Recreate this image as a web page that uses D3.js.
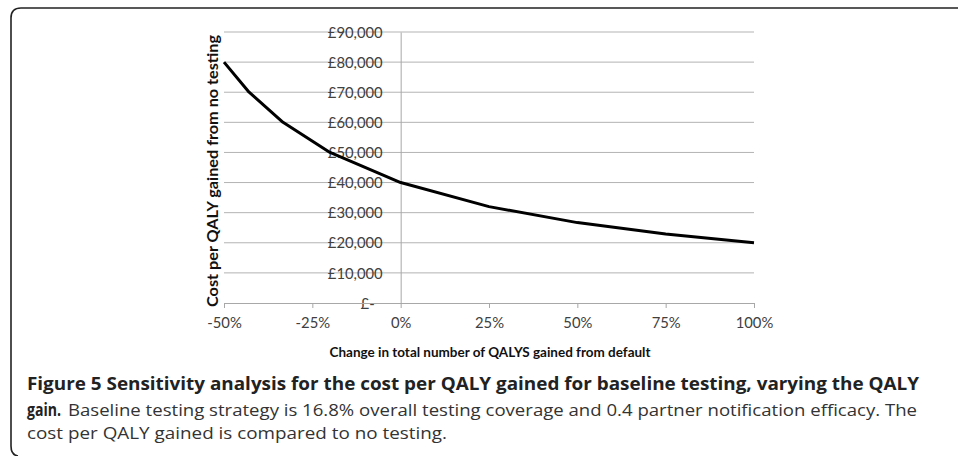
<!DOCTYPE html>
<meta charset="utf-8">
<style>
body { margin: 0; background: #fff; }
svg { display: block; }
.grid line { stroke: #b3b3b3; stroke-width: 1px; }
.tick text { font-family: Lato, "Open Sans", sans-serif; }
</style>
<body>
<script src="https://d3js.org/d3.v7.min.js"></script>
<script>

// data
var changePct = [-0.5, -0.429, -0.333, -0.2, 0, 0.25, 0.5, 0.75, 1.0];
var costPerQaly = [80000, 70000, 60000, 50000, 40000, 32000, 26700, 22900, 20000];
var xTicks = [-0.5, -0.25, 0, 0.25, 0.5, 0.75, 1.0];
var yTicks = [0, 10000, 20000, 30000, 40000, 50000, 60000, 70000, 80000, 90000];

var width = 958, height = 456;

var svg = d3.select("body").append("svg")
    .attr("width", width)
    .attr("height", height);

// rounded frame round the figure
svg.append("path")
    .attr("d", "M958,8 L21,8 Q11,8 11,18 L11,446 Q11,455 18,456")
    .attr("fill", "none")
    .attr("stroke", "#222")
    .attr("stroke-width", 1.6);

var x = d3.scaleLinear().domain([-0.5, 1]).range([224, 754]);
var y = d3.scaleLinear().domain([0, 90000]).range([303, 32]);

// horizontal gridlines
svg.append("g")
    .attr("class", "grid")
  .selectAll("line")
  .data(yTicks.filter(function(d) { return d > 0; }))
  .enter().append("line")
    .attr("x1", x(-0.5))
    .attr("x2", x(1))
    .attr("y1", function(d) { return y(d); })
    .attr("y2", function(d) { return y(d); });

// y axis sits at 0%
var yAxis = svg.append("g")
    .attr("transform", "translate(" + x(0) + ",0)")
    .call(d3.axisLeft(y).tickValues(yTicks).tickSize(0).tickPadding(18)
      .tickFormat(function(d) { return d === 0 ? "£-" : "£" + d3.format(",")(d); }));
yAxis.select(".domain").attr("stroke", "#a8a8a8");
yAxis.selectAll("text")
    .attr("font-size", "14.8px")
    .attr("fill", "#404040")
    .attr("dy", "0.35em");
yAxis.selectAll("text").filter(function(d) { return d === 0; })
    .attr("dx", "-8px");

// x axis
var xAxis = svg.append("g")
    .attr("transform", "translate(0," + y(0) + ")")
    .call(d3.axisBottom(x).tickValues(xTicks).tickSize(5).tickSizeOuter(0).tickPadding(9)
      .tickFormat(function(d) { return Math.round(d * 100) + "%"; }));
xAxis.select(".domain").attr("stroke", "#a8a8a8");
xAxis.selectAll(".tick line").attr("stroke", "#a8a8a8");
xAxis.selectAll("text")
    .attr("font-size", "14.8px")
    .attr("fill", "#404040");

// the curve
var data = changePct.map(function(d, i) { return {p: d, c: costPerQaly[i]}; });
svg.append("path")
    .datum(data)
    .attr("fill", "none")
    .attr("stroke", "#000")
    .attr("stroke-width", 3)
    .attr("stroke-linejoin", "round")
    .attr("d", d3.line()
      .x(function(d) { return x(d.p); })
      .y(function(d) { return y(d.c); }));

// axis titles
svg.append("text")
    .attr("transform", "translate(218,171) rotate(-90)")
    .attr("text-anchor", "middle")
    .attr("font-family", "Lato, sans-serif")
    .attr("font-weight", "bold")
    .attr("font-size", "14.5px")
    .attr("fill", "#111")
    .attr("textLength", 272)
    .attr("lengthAdjust", "spacingAndGlyphs")
    .text("Cost per QALY gained from no testing");

svg.append("text")
    .attr("x", 490)
    .attr("y", 357)
    .attr("text-anchor", "middle")
    .attr("font-family", "Lato, sans-serif")
    .attr("font-weight", "bold")
    .attr("font-size", "14px")
    .attr("fill", "#111")
    .attr("textLength", 321)
    .attr("lengthAdjust", "spacingAndGlyphs")
    .text("Change in total number of QALYS gained from default");

// caption
var cap = svg.append("g")
    .attr("font-family", "'Open Sans', sans-serif")
    .attr("fill", "#222");

cap.append("text")
    .attr("x", 27).attr("y", 390)
    .attr("font-size", "18px")
    .attr("font-weight", "bold")
    .attr("textLength", 892)
    .attr("lengthAdjust", "spacingAndGlyphs")
    .text("Figure 5 Sensitivity analysis for the cost per QALY gained for baseline testing, varying the QALY");

cap.append("text")
    .attr("x", 27).attr("y", 416)
    .attr("font-size", "18px")
    .attr("font-weight", "bold")
    .attr("textLength", 34)
    .attr("lengthAdjust", "spacingAndGlyphs")
    .text("gain.");

cap.append("text")
    .attr("x", 68).attr("y", 416)
    .attr("font-size", "17px")
    .attr("fill", "#333")
    .attr("textLength", 849)
    .attr("lengthAdjust", "spacingAndGlyphs")
    .text("Baseline testing strategy is 16.8% overall testing coverage and 0.4 partner notification efficacy. The");

cap.append("text")
    .attr("x", 27).attr("y", 439)
    .attr("font-size", "17px")
    .attr("fill", "#333")
    .attr("textLength", 420)
    .attr("lengthAdjust", "spacingAndGlyphs")
    .text("cost per QALY gained is compared to no testing.");

</script>
</body>
